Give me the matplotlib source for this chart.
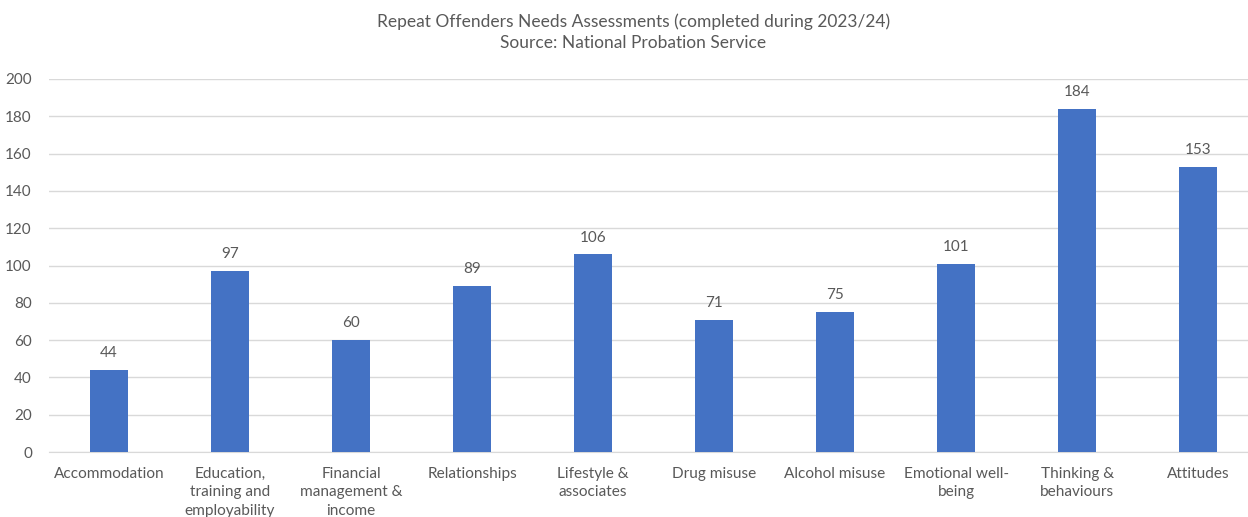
import matplotlib
matplotlib.use("Agg")
import matplotlib.pyplot as plt

categories = ["Accommodation", "Education,\ntraining and\nemployability", "Financial\nmanagement &\nincome",
              "Relationships", "Lifestyle &\nassociates", "Drug misuse", "Alcohol misuse",
              "Emotional well-\nbeing", "Thinking &\nbehaviours", "Attitudes"]
values = [44, 97, 60, 89, 106, 71, 75, 101, 184, 153]
yticks = [0, 20, 40, 60, 80, 100, 120, 140, 160, 180, 200]

plt.rcParams['font.family'] = ['Lato', 'DejaVu Sans']
gray = "#595959"

fig = plt.figure(figsize=(12.48, 5.17), dpi=100)
ax = fig.add_axes([0.0389, 0.1257, 0.9696, 0.7215])
x = list(range(len(categories)))
bars = ax.bar(x, values, width=0.31, color="#4472C4", zorder=3)
for xi, v in zip(x, values):
    ax.annotate(str(v), (xi, v), xytext=(0, 7), textcoords="offset points",
                ha="center", va="bottom", fontsize=11, color=gray)
ax.set_xlim(-0.5, len(categories) - 0.5)
ax.set_ylim(0, 200)
ax.set_yticks(yticks)
ax.grid(axis="y", color="#D9D9D9", linewidth=1, zorder=0)
for s in ["top", "right", "left"]:
    ax.spines[s].set_visible(False)
ax.spines["bottom"].set_color("#D9D9D9")
ax.tick_params(axis="both", length=0, colors=gray, labelsize=11)
ax.tick_params(axis="x", pad=10.5, labelsize=11.1)
ax.tick_params(axis="y", pad=12)
ax.set_xticks(x)
ax.set_xticklabels(categories, linespacing=1.42)
fig.text(0.5074, 0.938, "Repeat Offenders Needs Assessments (completed during 2023/24)\nSource: National Probation Service",
         ha="center", va="center", fontsize=12.5, color=gray, linespacing=1.4)
fig.savefig("out.png", dpi=100)
